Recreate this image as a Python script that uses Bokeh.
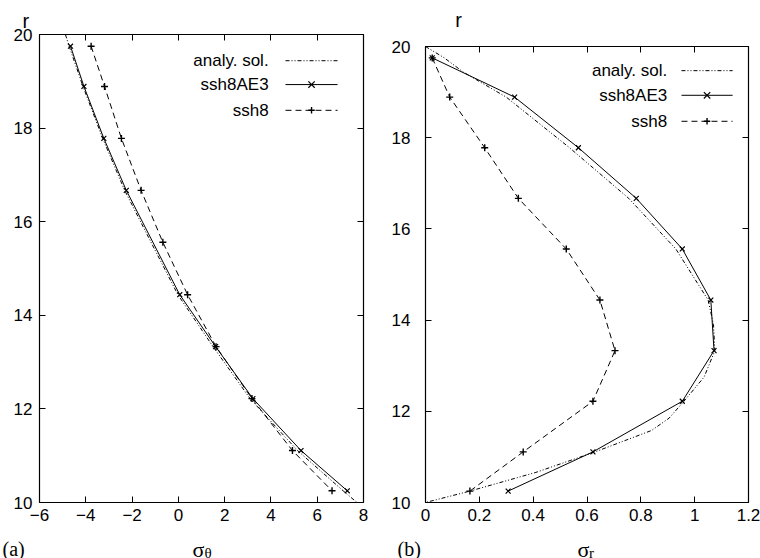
from bokeh.plotting import figure
from bokeh.layouts import row, column
from bokeh.models import Range1d, FixedTicker, LinearAxis, Label, Arrow, NumeralTickFormatter
from bokeh.embed import file_html
from bokeh.resources import INLINE

# ---------------- data ----------------
r_nodes = [19.75, 18.89, 17.78, 16.67, 15.56, 14.44, 13.33, 12.22, 11.11, 10.25]

# (a) sigma_theta
ae3_theta_r = [19.75, 18.89, 17.78, 16.67, 14.44, 13.33, 12.22, 11.11, 10.25]
ae3_theta = [-4.66, -4.08, -3.22, -2.25, 0.06, 1.61, 3.22, 5.30, 7.30]
ssh8_theta = [-3.77, -3.19, -2.46, -1.61, -0.67, 0.40, 1.63, 3.18, 4.93, 6.64]
ana_theta_r = [20.0, 19.75, 18.89, 17.78, 16.67, 15.56, 14.44, 13.33, 12.22, 11.11, 10.25, 10.0]
ana_theta = [-4.88, -4.72, -4.12, -3.27, -2.32, -1.18, -0.02, 1.50, 3.10, 5.15, 7.12, 7.72]

# (b) sigma_r
ae3_sr = [0.025, 0.331, 0.568, 0.783, 0.954, 1.060, 1.072, 0.954, 0.622, 0.307]
ssh8_sr = [0.025, 0.090, 0.220, 0.345, 0.523, 0.648, 0.704, 0.622, 0.363, 0.165]
ana_sr_r = [20.0, 19.75, 19.44, 18.89, 17.78, 16.67, 15.56, 14.44, 13.9, 13.33, 12.75, 12.22,
            11.85, 11.58, 11.11, 10.66, 10.25, 10.0]
ana_sr = [0.0, 0.07, 0.14, 0.30, 0.535, 0.755, 0.93, 1.05, 1.07, 1.075, 1.035, 0.96,
          0.905, 0.84, 0.63, 0.41, 0.165, 0.0]

# ticks
a_xticks = [-6, -4, -2, 0, 2, 4, 6, 8]
b_xticks = [0, 0.2, 0.4, 0.6, 0.8, 1.0, 1.2]
r_ticks = [10, 12, 14, 16, 18, 20]

legend_names = ["analy. sol.", "ssh8AE3", "ssh8"]
panel_tags = ["(a)", "(b)"]
y_name = "r"
x_names = [("\u03c3", "\u03b8"), ("\u03c3", "r")]

SANS = "Liberation Sans"
SERIF = "Liberation Serif"
DASH_ANA = "4 2 1 2 1 2"
DASH_SSH8 = "6 4"
BOTB = 26        # bottom border of the plot panels (tick labels)
BOTSTRIP = 30    # text strip under the panels


def make_panel(xr, xticks, fw, fh, bl, br, bt, bb, ystandoff, xformatter=None, xoverrides=None):
    p = figure(frame_width=fw, frame_height=fh, min_border_left=bl, min_border_right=br,
               min_border_top=bt, min_border_bottom=bb,
               x_range=Range1d(*xr), y_range=Range1d(10, 20),
               output_backend="svg", toolbar_location=None,
               background_fill_color="white", border_fill_color="white")
    p.title.visible = False
    p.grid.visible = False
    p.outline_line_color = "black"
    p.outline_line_width = 1.2
    for ax in [p.xaxis[0], p.yaxis[0]]:
        ax.axis_line_color = None
        ax.major_tick_in = 6
        ax.major_tick_out = 0
        ax.minor_tick_out = 0
        ax.minor_tick_in = 0
        ax.minor_tick_line_color = None
        ax.major_tick_line_color = "black"
        ax.major_label_text_font = SANS
        ax.major_label_text_font_size = "17px"
        ax.major_label_text_color = "black"
    p.xaxis[0].ticker = FixedTicker(ticks=xticks)
    p.yaxis[0].ticker = FixedTicker(ticks=r_ticks)
    p.xaxis[0].major_label_standoff = 6
    p.yaxis[0].major_label_standoff = ystandoff
    if xformatter is not None:
        p.xaxis[0].formatter = xformatter
    if xoverrides is not None:
        p.xaxis[0].major_label_overrides = xoverrides
    # mirrored ticks on top and right (no labels)
    for loc, tk in [("above", xticks), ("right", r_ticks)]:
        ax = LinearAxis(ticker=FixedTicker(ticks=tk), axis_line_color=None,
                        major_tick_in=6, major_tick_out=0, minor_tick_in=0, minor_tick_out=0,
                        minor_tick_line_color=None,
                        major_label_overrides={t: "" for t in tk},
                        major_label_text_font_size="1px", major_label_standoff=0)
        p.add_layout(ax, loc)
    return p


def add_legend(p, xtext, xl0, xl1, ys, px_x, px_y):
    dashes = [DASH_ANA, "solid", DASH_SSH8]
    xm = 0.5 * (xl0 + xl1)
    dx = 3.2 * px_x
    dy = 3.2 * px_y
    for i, (name, y) in enumerate(zip(legend_names, ys)):
        p.add_layout(Label(x=xtext, y=y, text=name, text_align="right", text_baseline="middle",
                           text_font=SANS, text_font_size="17px", text_color="black"))
        p.add_layout(Arrow(end=None, x_start=xl0, y_start=y, x_end=xl1, y_end=y,
                           line_color="black", line_width=1, line_dash=dashes[i]))
        if i == 1:
            p.add_layout(Arrow(end=None, x_start=xm - dx, y_start=y - dy, x_end=xm + dx, y_end=y + dy,
                               line_color="black", line_width=1.2))
            p.add_layout(Arrow(end=None, x_start=xm - dx, y_start=y + dy, x_end=xm + dx, y_end=y - dy,
                               line_color="black", line_width=1.2))
        if i == 2:
            p.add_layout(Arrow(end=None, x_start=xm - dx, y_start=y, x_end=xm + dx, y_end=y,
                               line_color="black", line_width=1.4))
            p.add_layout(Arrow(end=None, x_start=xm, y_start=y + dy, x_end=xm, y_end=y - dy,
                               line_color="black", line_width=1.4))


def strip(w, h):
    # a text-only strip whose data units are pixels (y downwards)
    s = figure(frame_width=w, frame_height=h, min_border=0,
               x_range=Range1d(0, w), y_range=Range1d(h, 0),
               x_axis_type=None, y_axis_type=None,
               output_backend="svg", toolbar_location=None,
               background_fill_color="white", border_fill_color="white")
    s.title.visible = False
    s.outline_line_color = None
    return s


def txt(s, x, y, text, font, size, align="left"):
    s.add_layout(Label(x=x, y=y, text=text, text_align=align, text_baseline="alphabetic",
                       text_font=font, text_font_size=size, text_color="black"))


# ---------------- panel (a) ----------------
neg = {t: ("\u2212" + str(abs(t)) if t < 0 else str(t)) for t in a_xticks}
pa = make_panel((-6, 8), a_xticks, 324, 468, 39, 17, 34, BOTB, 7, xoverrides=neg)
pxa = 14 / 324.0
pya = 10 / 468.0

pa.line(ana_theta, ana_theta_r, line_color="black", line_width=1, line_dash=DASH_ANA)
pa.line(ae3_theta, ae3_theta_r, line_color="black", line_width=1)
pa.scatter(ae3_theta, ae3_theta_r, marker="x", size=7, line_color="black", line_width=1.2)
pa.line(ssh8_theta, r_nodes, line_color="black", line_width=1, line_dash=DASH_SSH8)
pa.scatter(ssh8_theta, r_nodes, marker="cross", size=7, line_color="black", line_width=1.4)

add_legend(pa, 3.9, 4.63, 6.88, [19.44, 18.93, 18.38], pxa, pya)

# the "r" over the left axis is this panel's title
pa.title.visible = True
pa.title.text = y_name
pa.title.align = "left"
pa.title.offset = -17
pa.title.standoff = 6
pa.title.text_font = SANS
pa.title.text_font_size = "20px"
pa.title.text_font_style = "normal"
pa.title.text_color = "black"

# ---------------- panel (b) ----------------
pb = make_panel((0, 1.2), b_xticks, 323, 456, 45, 12, 16, BOTB, 15,
                xformatter=NumeralTickFormatter(format="0.[0]"))
pxb = 1.2 / 323.0
pyb = 10 / 456.0

pb.line(ana_sr, ana_sr_r, line_color="black", line_width=1, line_dash=DASH_ANA)
pb.line(ae3_sr, r_nodes, line_color="black", line_width=1)
pb.scatter(ae3_sr, r_nodes, marker="x", size=7, line_color="black", line_width=1.2)
pb.line(ssh8_sr, r_nodes, line_color="black", line_width=1, line_dash=DASH_SSH8)
pb.scatter(ssh8_sr, r_nodes, marker="cross", size=7, line_color="black", line_width=1.4)

add_legend(pb, 0.898, 0.951, 1.141, [19.47, 18.93, 18.36], pxb, pyb)

# ---------------- text strips ----------------
top_b = strip(380, 30)
txt(top_b, 33, 19.5, y_name, SANS, "20px", align="center")

bot_a = strip(380, BOTSTRIP)
txt(bot_a, 2, 20.5, panel_tags[0], SERIF, "20px")
txt(bot_a, 198, 21, x_names[0][0], SERIF, "22px", align="center")
txt(bot_a, 204, 24.5, x_names[0][1], SERIF, "15px")

bot_b = strip(380, BOTSTRIP)
txt(bot_b, 17, 20.5, panel_tags[1], SERIF, "20px")
txt(bot_b, 203, 21, x_names[1][0], SERIF, "22px", align="center")
txt(bot_b, 208.5, 24.5, x_names[1][1], SERIF, "15px")

layout = column(row(pa, column(top_b, pb, spacing=0), spacing=0),
                row(bot_a, bot_b, spacing=0), spacing=0)
open("out.html", "w").write(file_html(layout, INLINE))
